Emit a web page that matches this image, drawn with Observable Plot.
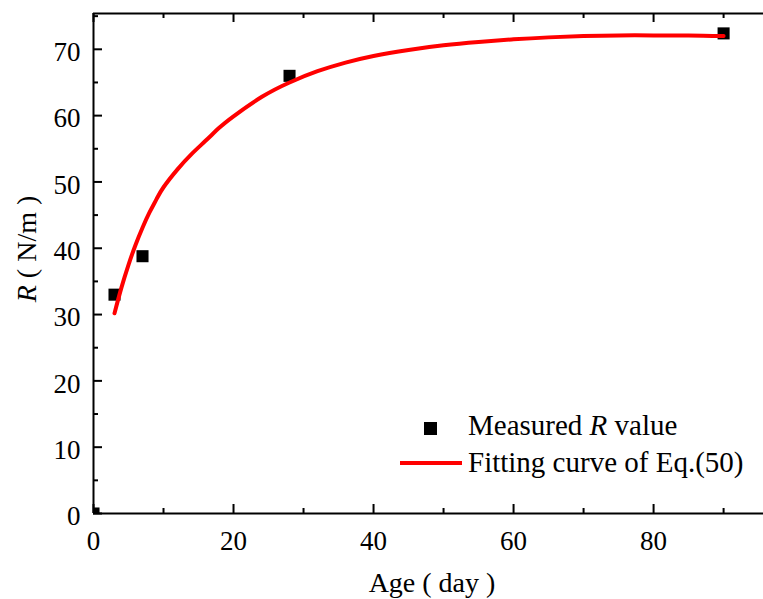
<!DOCTYPE html>
<html><head><meta charset="utf-8">
<script src="https://cdn.jsdelivr.net/npm/d3@7"></script>
<script src="https://cdn.jsdelivr.net/npm/@observablehq/plot@0.6"></script>
<style>body{margin:0;background:#fff;}</style>
</head><body><div id="chart"></div>
<script>
// Measured R values
const measuredAge = [0, 3, 7, 28, 90];
const measuredR = [0, 33.0, 38.8, 66.0, 72.4];
// Fitting curve of Eq.(50)
const fitAge = [3, 4, 5, 6, 7, 8, 9, 10, 12, 14, 16, 18, 20, 24, 28, 32, 36, 40, 45, 50, 55, 60, 65, 70, 75, 80, 85, 90];
const fitR = [30.2, 34.1, 37.5, 40.5, 43.1, 45.4, 47.4, 49.2, 51.9, 54.2, 56.2, 58.2, 59.9, 62.8, 65.0, 66.7, 68.0, 69.0, 69.9, 70.6, 71.1, 71.5, 71.8, 72.0, 72.1, 72.1, 72.1, 72.0];
// Ticks
const xMajor = [0, 20, 40, 60, 80];
const xMinor = [10, 30, 50, 70, 90];
const yMajor = [0, 10, 20, 30, 40, 50, 60, 70];
const yMinor = [5, 15, 25, 35, 45, 55, 65, 75];
const xDomain = [0, 95.7];
const yDomain = [0, 75.4];

const W = 763, H = 599, mL = 93, mR = 0, mT = 13, mB = 86;
const pw = W - mL - mR, ph = H - mT - mB;
const font = "Liberation Serif, Times New Roman, serif";

const measured = measuredAge.map((a, i) => ({age: a, r: measuredR[i]}));
const fit = fitAge.map((a, i) => ({age: a, r: fitR[i]}));

const plot = Plot.plot({
  width: W, height: H,
  marginLeft: mL, marginRight: mR, marginTop: mT, marginBottom: mB,
  style: {fontFamily: font, fontSize: "27px", color: "black", background: "white"},
  x: {domain: xDomain},
  y: {domain: yDomain},
  marks: [
    Plot.axisX({ticks: xMajor, tickSize: 0, tickPadding: 17, fontSize: 27, label: null, tickFormat: d => d}),
    Plot.axisY({ticks: yMajor, tickSize: 0, tickPadding: 13, fontSize: 27, label: null, dy: 3, tickFormat: d => d}),
    // inward ticks bottom
    Plot.tickX(xMajor, {x: d => d, insetTop: ph - 9, stroke: "black", strokeWidth: 2}),
    Plot.tickX(xMinor, {x: d => d, insetTop: ph - 5, stroke: "black", strokeWidth: 2}),
    // inward ticks top
    Plot.tickX(xMajor, {x: d => d, insetBottom: ph - 9, stroke: "black", strokeWidth: 2}),
    Plot.tickX(xMinor, {x: d => d, insetBottom: ph - 5, stroke: "black", strokeWidth: 2}),
    // inward ticks left
    Plot.tickY(yMajor, {y: d => d, insetRight: pw - 9, stroke: "black", strokeWidth: 2}),
    Plot.tickY(yMinor, {y: d => d, insetRight: pw - 5, stroke: "black", strokeWidth: 2}),
    // frame lines
    Plot.ruleX([xDomain[0]], {stroke: "black", strokeWidth: 2}),
    Plot.ruleY([yDomain[0]], {stroke: "black", strokeWidth: 2}),
    Plot.ruleY([yDomain[1]], {stroke: "black", strokeWidth: 2}),
    Plot.dot(measured, {x: "age", y: "r", symbol: "square", r: 6.8, fill: "black", stroke: null, clip: true}),
    Plot.line(fit, {x: "age", y: "r", stroke: "#ff0000", strokeWidth: 4, curve: "natural"})
  ]
});
document.getElementById("chart").appendChild(plot);

const svg = d3.select(plot);
// Axis titles
svg.append("text").attr("x", 432).attr("y", 592).attr("text-anchor", "middle")
  .attr("font-family", font).attr("font-size", 28).attr("fill", "black").text("Age ( day )");
const yl = svg.append("text").attr("transform", "translate(36,249) rotate(-90)").attr("text-anchor", "middle")
  .attr("font-family", font).attr("font-size", 28).attr("fill", "black");
yl.append("tspan").attr("font-style", "italic").text("R");
yl.append("tspan").text(" ( N/m )");

// Legend
const lg = svg.append("g").attr("font-family", font).attr("font-size", 29).attr("fill", "black").attr("text-anchor", "start");
lg.append("rect").attr("x", 424).attr("y", 422).attr("width", 13).attr("height", 13).attr("fill", "black");
const t1 = lg.append("text").attr("x", 468).attr("y", 435).attr("text-anchor", "start");
t1.append("tspan").text("Measured ");
t1.append("tspan").attr("font-style", "italic").text("R");
t1.append("tspan").text(" value");
lg.append("line").attr("x1", 400).attr("x2", 462).attr("y1", 463).attr("y2", 463).attr("stroke", "#ff0000").attr("stroke-width", 4);
lg.append("text").attr("x", 468).attr("y", 472).attr("text-anchor", "start").text("Fitting curve of Eq.(50)");
</script>
</body></html>
